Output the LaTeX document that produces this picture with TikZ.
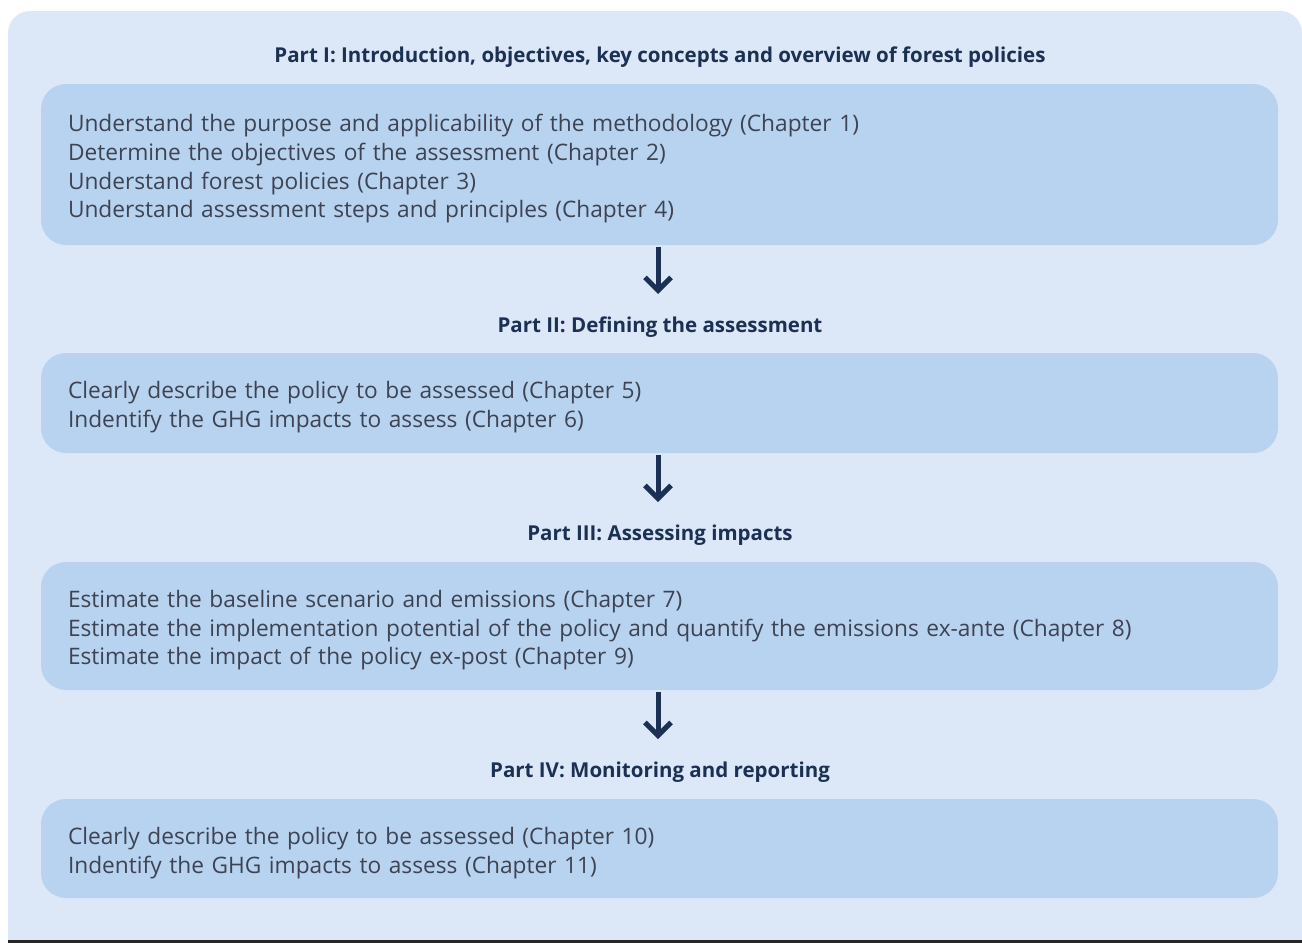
\documentclass[tikz,border=0pt]{standalone}
\usepackage{fontspec}
\setmainfont{Open Sans}
\usetikzlibrary{arrows.meta}
\definecolor{outerbg}{HTML}{DCE8F7}
\definecolor{innerbg}{HTML}{B8D3F0}
\definecolor{navy}{HTML}{1B3052}
\definecolor{bodygrey}{HTML}{3D4352}
\newcommand{\firstline}{\rule{0pt}{26pt}}
\tikzset{
  parttitle/.style={font=\fontsize{20.5}{24}\selectfont\bfseries, text=navy, inner sep=0pt},
  partbox/.style={fill=innerbg, rounded corners=25pt, minimum width=1237pt, text width=1183pt,
    align=left, inner xsep=27pt, font=\fontsize{22.7}{28.7}\selectfont, text=bodygrey},
  flowarrow/.style={draw=navy, line width=5pt, -{Straight Barb[length=13pt,width=26pt]}}
}
\begin{document}
\begin{tikzpicture}[x=1pt,y=-1pt]
           \useasboundingbox (0,0) rectangle (1302,943);
           \clip (0,0) rectangle (1302,943);
           % background
           \fill[outerbg, rounded corners=22pt] (8,11) rectangle (1302,980);
           \fill[black!85] (8,940) rectangle (1302,943);
           % part titles
           \node[parttitle] (t1) at (660,57) {Part I: Introduction, objectives, key concepts and overview of forest policies};
           \node[parttitle] (t2) at (660,327) {Part II: Defining the assessment};
           \node[parttitle] (t3) at (660,535) {Part III: Assessing impacts};
           \node[parttitle] (t4) at (660,772) {Part IV: Monitoring and reporting};
           % boxes
           \node[partbox, minimum height=161pt] (b1) at (659.5,164.5) {\firstline Understand the purpose and applicability of the methodology (Chapter 1)\\
             Determine the objectives of the assessment (Chapter 2)\\
             Understand forest policies (Chapter 3)\\
             Understand assessment steps and principles (Chapter 4)};
           \node[partbox, minimum height=100pt] (b2) at (659.5,403) {\firstline Clearly describe the policy to be assessed (Chapter 5)\\
             Indentify the GHG impacts to assess (Chapter 6)};
           \node[partbox, minimum height=128pt] (b3) at (659.5,626) {\firstline Estimate the baseline scenario and emissions (Chapter 7)\\
             Estimate the implementation potential of the policy and quantify the emissions ex-ante (Chapter 8)\\
             Estimate the impact of the policy ex-post (Chapter 9)};
           \node[partbox, minimum height=99pt] (b4) at (659.5,848.5) {\firstline Clearly describe the policy to be assessed (Chapter 10)\\
             Indentify the GHG impacts to assess (Chapter 11)};
           % arrows
           \draw[flowarrow, shorten <=2pt] ([xshift=-1.5pt]b1.south) -- ([xshift=-2pt]t2.north |- 0,294);
           \draw[flowarrow, shorten <=2pt] ([xshift=-1.5pt]b2.south) -- ([xshift=-2pt]t3.north |- 0,502);
           \draw[flowarrow, shorten <=2pt] ([xshift=-1.5pt]b3.south) -- ([xshift=-2pt]t4.north |- 0,739);
        \end{tikzpicture}
\end{document}
